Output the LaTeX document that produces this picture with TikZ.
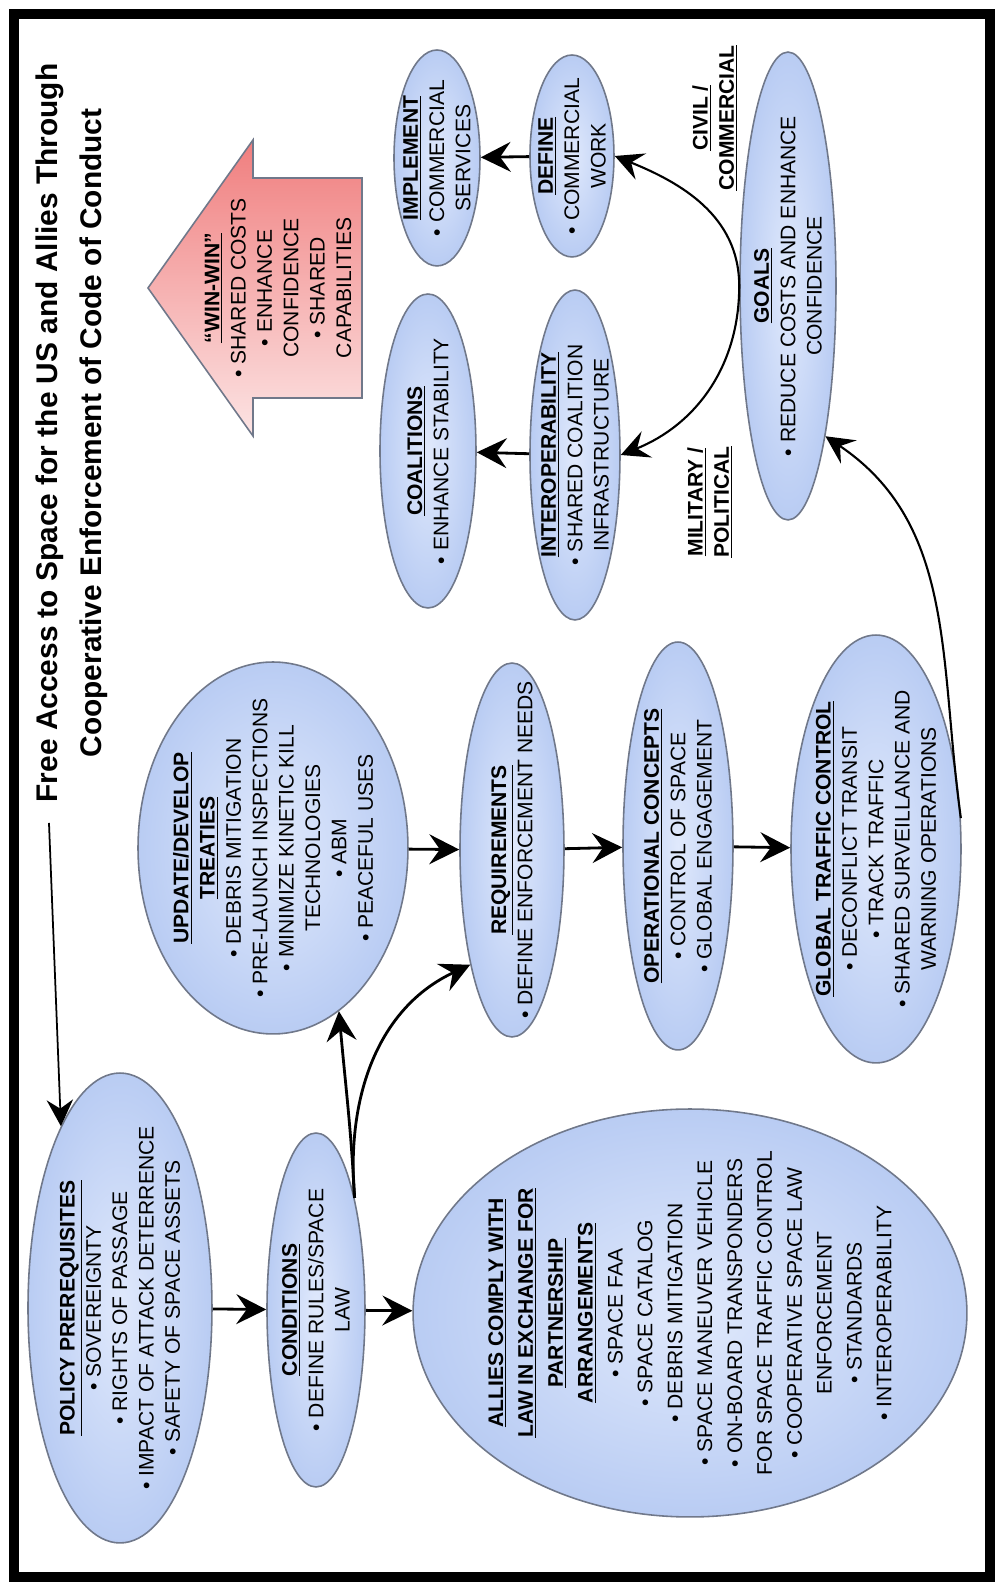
\documentclass[tikz,border=0pt]{standalone}
\usepackage{fontspec}
\setmainfont{Liberation Sans}
\usetikzlibrary{arrows.meta,shapes.geometric}

\definecolor{bubin}{RGB}{224,233,252}
\definecolor{bubout}{RGB}{185,204,243}
\definecolor{bubline}{RGB}{112,120,138}
\definecolor{winhi}{RGB}{240,126,126}
\definecolor{winlo}{RGB}{252,228,228}

\tikzset{
  bubble/.style={ellipse, draw=bubline, line width=0.9pt, inner color=bubin, outer color=bubout},
  words/.style={align=center, font=\fontsize{12}{15}\selectfont, inner sep=0pt},
  flow/.style={-{Stealth[length=17pt,width=17pt,inset=6pt]}, line width=1.6pt},
  swing/.style={-{Stealth[length=16pt,width=16pt,inset=6pt]}, line width=1.2pt},
  leader/.style={-{Stealth[length=15pt,width=15pt,inset=5pt]}, line width=1pt}
}
\newcommand{\hd}[1]{\textbf{\underline{#1}}}

\begin{document}
\begin{tikzpicture}
\begin{scope}[x=0.02cm, y=0.02cm, rotate=90, transform shape]
	\useasboundingbox (0,0) rectangle (1591,1000);
	\draw[line width=0.2cm] (14,10) rectangle (1577,986);

	% title
	\node[align=center, font=\bfseries\fontsize{17}{25}\selectfont] (title) at (1158,928)
		{Free Access to Space for the US and Allies Through\\Cooperative Enforcement of Code of Conduct};
	\coordinate (lead) at (768,951);

	% win-win arrow
	\shade[draw=bubline, line width=0.9pt, top color=winhi, bottom color=winlo]
		(1193,638) -- (1193,747) -- (1155,747) -- (1303,852) -- (1451,747) -- (1413,747) -- (1413,638) -- cycle;
	\node[words] (win) at (1303,722) {\hd{``WIN-WIN''}\\\textbullet\ SHARED COSTS\\\textbullet\ ENHANCE\\CONFIDENCE\\\textbullet\ SHARED\\CAPABILITIES};

	% left column
	\node[bubble, minimum width=9.4cm, minimum height=3.68cm] (pol) at (283,880) {};
	\node[words] (pol-t) at (pol) {\hd{POLICY PREREQUISITES}\\\textbullet\ SOVEREIGNTY\\\textbullet\ RIGHTS OF PASSAGE\\\textbullet\ IMPACT OF ATTACK DETERRENCE\\\textbullet\ SAFETY OF SPACE ASSETS};
	\node[bubble, minimum width=7.08cm, minimum height=1.96cm] (cond) at (281,684) {};
	\node[words] (cond-t) at (cond) {\hd{CONDITIONS}\\\textbullet\ DEFINE RULES/SPACE\\LAW};
	\node[bubble, minimum width=8.16cm, minimum height=11.08cm] (allies) at (278,310) {};
	\node[words, font=\fontsize{12}{17}\selectfont] (allies-t) at (allies) {\hd{ALLIES COMPLY WITH}\\\hd{LAW IN EXCHANGE FOR}\\\hd{PARTNERSHIP}\\\hd{ARRANGEMENTS}\\\textbullet\ SPACE FAA\\\textbullet\ SPACE CATALOG\\\textbullet\ DEBRIS MITIGATION\\\textbullet\ SPACE MANEUVER VEHICLE\\\textbullet\ ON-BOARD TRANSPONDERS\\FOR SPACE TRAFFIC CONTROL\\\textbullet\ COOPERATIVE SPACE LAW\\ENFORCEMENT\\\textbullet\ STANDARDS\\\textbullet\ INTEROPERABILITY};

	% middle column
	\node[bubble, minimum width=7.44cm, minimum height=5.4cm] (trt) at (743,727) {};
	\node[words] (trt-t) at (trt) {\hd{UPDATE/DEVELOP}\\\hd{TREATIES}\\\textbullet\ DEBRIS MITIGATION\\\textbullet\ PRE-LAUNCH INSPECTIONS\\\textbullet\ MINIMIZE KINETIC KILL\\TECHNOLOGIES\\\textbullet\ ABM\\\textbullet\ PEACEFUL USES};
	\node[bubble, minimum width=7.48cm, minimum height=2.08cm] (req) at (741,488) {};
	\node[words] (req-t) at (req) {\hd{REQUIREMENTS}\\\textbullet\ DEFINE ENFORCEMENT NEEDS};
	\node[bubble, minimum width=8.16cm, minimum height=2.2cm] (ops) at (745,322) {};
	\node[words] (ops-t) at (ops) {\hd{OPERATIONAL CONCEPTS}\\\textbullet\ CONTROL OF SPACE\\\textbullet\ GLOBAL ENGAGEMENT};
	\node[bubble, minimum width=8.56cm, minimum height=3.4cm] (gtc) at (742,124) {};
	\node[words] (gtc-t) at (gtc) {\hd{GLOBAL TRAFFIC CONTROL}\\\textbullet\ DECONFLICT TRANSIT\\\textbullet\ TRACK TRAFFIC\\\textbullet\ SHARED SURVEILLANCE AND\\WARNING OPERATIONS};

	% right column
	\node[bubble, minimum width=9.36cm, minimum height=1.92cm] (goals) at (1305,212) {};
	\node[words] (goals-t) at (goals) {\hd{GOALS}\\\textbullet\ REDUCE COSTS AND ENHANCE\\CONFIDENCE};
	\node[bubble, minimum width=4.04cm, minimum height=1.68cm] (def) at (1435,428) {};
	\node[words] (def-t) at (def) {\hd{DEFINE}\\\textbullet\ COMMERCIAL\\WORK};
	\node[bubble, minimum width=6.6cm, minimum height=1.8cm] (intr) at (1136,425) {};
	\node[words] (intr-t) at (intr) {\hd{INTEROPERABILITY}\\\textbullet\ SHARED COALITION\\INFRASTRUCTURE};
	\node[bubble, minimum width=4.32cm, minimum height=1.72cm] (imp) at (1433,563) {};
	\node[words] (imp-t) at (imp) {\hd{IMPLEMENT}\\\textbullet\ COMMERCIAL\\SERVICES};
	\node[bubble, minimum width=6.28cm, minimum height=1.92cm] (coal) at (1140,572) {};
	\node[words] (coal-t) at (coal) {\hd{COALITIONS}\\\textbullet\ ENHANCE STABILITY};
	\node[words, font=\bfseries\fontsize{12}{15}\selectfont] (civ) at (1473,285) {\underline{CIVIL /}\\\underline{COMMERCIAL}};
	\node[words, font=\bfseries\fontsize{12}{15}\selectfont] (mil) at (1089,290) {\underline{MILITARY /}\\\underline{POLITICAL}};

	% connectors
	\draw[leader] (lead) -- (pol.18);
	\draw[flow] (pol) -- (cond);
	\draw[flow] (cond) -- (allies);
	\draw[flow] (cond.-19) to[out=3, in=185] (trt.202);
	\draw[flow] (cond.-19) to[out=5, in=115] (req.160);
	\draw[flow] (trt) -- (req);
	\draw[flow] (req) -- (ops);
	\draw[flow] (ops) -- (gtc);
	\draw[swing] (gtc.-70) to[out=8, in=236] (goals.194);
	\draw[swing] (goals.north) to[out=0, in=248] (def.south);
	\draw[swing] (goals.north) to[out=180, in=292] (intr.south);
	\draw[flow] (def) -- (imp);
	\draw[flow] (intr) -- (coal);
\end{scope}
\end{tikzpicture}
\end{document}
